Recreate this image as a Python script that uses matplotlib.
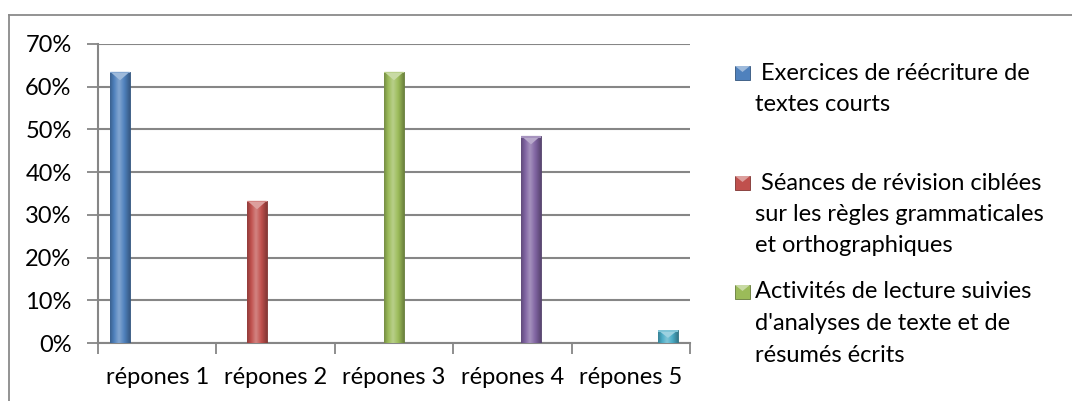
import numpy as np
import matplotlib
matplotlib.use("Agg")
import matplotlib.pyplot as plt
from matplotlib.patches import Polygon, Rectangle
from matplotlib.lines import Line2D
from matplotlib.colors import to_rgb

# ---- data -------------------------------------------------------------
categories = ["répones 1", "répones 2", "répones 3", "répones 4", "répones 5"]
series_values = [0.635, 0.333, 0.635, 0.485, 0.03]   # one series per category
series_colors = ["#4F81BD", "#C0504D", "#9BBB59", "#8064A2", "#4BACC6"]
legend_labels = [
    " Exercices de réécriture de\ntextes courts",
    " Séances de révision ciblées\nsur les règles grammaticales\net orthographiques",
    "Activités de lecture suivies\nd'analyses de texte et de\nrésumés écrits",
]
y_ticks = [0.0, 0.1, 0.2, 0.3, 0.4, 0.5, 0.6, 0.7]

W, H = 1072, 401
FS = 17.0
plt.rcParams["font.family"] = ["Lato", "DejaVu Sans"]
fig = plt.figure(figsize=(W / 100, H / 100), dpi=100)
fig.patch.set_facecolor("white")

ax = fig.add_axes([98 / W, 1 - 343 / H, (690 - 98) / W, (343 - 44) / H])
ax.set_facecolor("white")

grid_c = "#868686"
n = len(categories)
x = np.arange(n)
step = 0.157
bar_w = 0.165


def shade(color, f):
    r, g, b = to_rgb(color)
    if f >= 0:
        return (r + (1 - r) * f, g + (1 - g) * f, b + (1 - b) * f)
    return (r * (1 + f), g * (1 + f), b * (1 + f))


bevel = 0.02
for k, (val, col) in enumerate(zip(series_values, series_colors)):
    xc = x[k] + (k - (n - 1) / 2) * step
    bars = ax.bar([xc], [val], width=bar_w, color=col, zorder=3,
                  edgecolor=shade(col, -0.35), linewidth=0.6)
    rect = bars[0]
    # horizontal cylinder-like shading inside the bar
    t = np.linspace(0, 1, 64)
    prof = np.where(t < 0.45, -0.25 + 0.55 * (t / 0.45), 0.30 - 0.6 * ((t - 0.45) / 0.55))
    grad = np.array([[shade(col, p) for p in prof]])
    im = ax.imshow(grad, extent=[xc - bar_w / 2, xc + bar_w / 2, 0, val],
                   aspect="auto", zorder=3.5, interpolation="bicubic")
    im.set_clip_path(rect)
    # bevelled top
    b = min(bevel, val * 0.6)
    tri = Polygon([[xc - bar_w / 2, val], [xc + bar_w / 2, val], [xc, val - b]],
                  closed=True, facecolor=shade(col, 0.45), edgecolor="none", zorder=4)
    ax.add_patch(tri)
    ax.add_patch(Rectangle((xc - bar_w / 2, val - 0.004), bar_w, 0.004,
                           facecolor=shade(col, 0.3), edgecolor="none", zorder=4))

ax.set_xlim(-0.5, n - 0.5)
ax.set_ylim(0, 0.7)
ax.set_yticks(y_ticks)
ax.set_yticklabels([f"{int(round(v * 100))}%" for v in y_ticks])
ax.set_xticks(np.arange(-0.5, n, 1.0))
ax.set_xticklabels([])
ax.set_xticks(x, minor=True)
ax.set_xticklabels(categories, minor=True)
ax.tick_params(axis="x", which="minor", length=0, pad=17, labelsize=FS, labelcolor="black")
ax.tick_params(axis="x", which="major", length=8, width=1.3, color=grid_c, direction="out")
ax.tick_params(axis="y", length=8, width=1.3, color=grid_c, direction="out",
               labelsize=FS, pad=11, labelcolor="black")
ax.yaxis.grid(True, color=grid_c, linewidth=1.5, zorder=0)
ax.set_axisbelow(True)
for s in ["top", "right"]:
    ax.spines[s].set_visible(False)
for s in ["left", "bottom"]:
    ax.spines[s].set_color(grid_c)
    ax.spines[s].set_linewidth(1.5)

# chart-area frame (top and left edges)
fy = 1 - 15 / H
fx = 9 / W
fig.add_artist(Line2D([fx, 1], [fy, fy], transform=fig.transFigure, color="#8a8a8a", lw=1.3))
fig.add_artist(Line2D([fx, fx], [0, fy], transform=fig.transFigure, color="#8a8a8a", lw=1.3))

# legend
first_line_y = [73, 183, 292]
line_gap = 31.5
for lab, col, y0 in zip(legend_labels, series_colors, first_line_y):
    fig.add_artist(Rectangle((735 / W, 1 - (y0 + 7) / H), 15 / W, 14 / H,
                             transform=fig.transFigure, facecolor=col,
                             edgecolor=shade(col, -0.35), lw=0.6))
    fig.add_artist(Polygon([[735 / W, 1 - (y0 - 7) / H], [750 / W, 1 - (y0 - 7) / H],
                            [742.5 / W, 1 - (y0 - 1) / H]], closed=True,
                           transform=fig.transFigure, facecolor=shade(col, 0.45),
                           edgecolor="none"))
    for i, line in enumerate(lab.split("\n")):
        fig.text(755 / W, 1 - (y0 + i * line_gap) / H, line, fontsize=FS,
                 va="center", ha="left", color="black")

fig.savefig("out.png", dpi=100, facecolor="white")
